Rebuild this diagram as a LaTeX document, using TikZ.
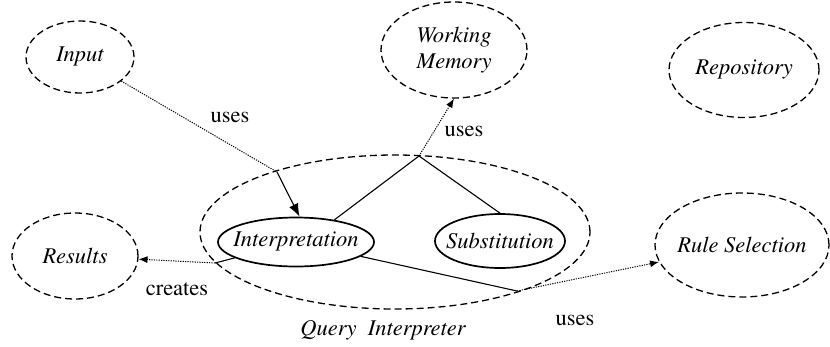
\documentclass[tikz,border=0pt]{standalone}
\usepackage[T1]{fontenc}
\renewcommand{\rmdefault}{ptm}
\usetikzlibrary{shapes.geometric,arrows.meta}
\newcommand{\lblfont}{\rmfamily\fontsize{22.5}{26}\selectfont}
% zero-width text so that the ellipse size is set by minimum width/height only
\newcommand{\zw}[1]{\makebox[0pt]{#1}}
\begin{document}
\begin{tikzpicture}[x=1pt,y=-1pt,
  every node/.style={font=\lblfont},
  dashedell/.style={ellipse,draw,line width=1.3pt,dash pattern=on 7pt off 4pt,inner sep=0pt,align=center,font=\lblfont\itshape},
  solidell/.style={ellipse,draw,line width=1.7pt,inner sep=0pt,font=\lblfont\itshape},
  dotarrow/.style={line width=1pt,dash pattern=on 1.2pt off 1.2pt,-{Latex[length=9pt,width=7pt]}},
  dotline/.style={line width=1pt,dash pattern=on 1.2pt off 1.2pt},
  plainline/.style={line width=1.1pt},
  lbl/.style={font=\lblfont}]
\useasboundingbox (0,0) rectangle (830,346);

% outer component
\node[dashedell,minimum width=390pt,minimum height=154pt] (qi) at (395,232) {};
\node[font=\lblfont\itshape] (qilbl) at (383,330) {Query\ \ Interpreter};

% external elements
\node[dashedell,minimum width=108pt,minimum height=72pt] (inp) at (80,57) {\zw{Input}};
\node[dashedell,minimum width=146pt,minimum height=96pt] (wm) at (454,50) {\zw{Working}\\\zw{Memory}};
\node[dashedell,minimum width=150pt,minimum height=95pt] (rep) at (744,70) {\zw{Repository}};
\node[dashedell,minimum width=126pt,minimum height=86pt] (res) at (75,256) {\zw{Results}};
\node[dashedell,minimum width=174pt,minimum height=104pt] (rule) at (742,245) {\zw{Rule Selection}};

% inner elements
\node[solidell,minimum width=156pt,minimum height=49pt] (interp) at (296,242) {\zw{Interpretation}};
\node[solidell,minimum width=130pt,minimum height=54pt] (subst) at (500,241) {\zw{Substitution}};

% points where connectors cross the outer boundary
\coordinate (qa) at (277,172);
\coordinate (qj) at (419,156);
\coordinate (qb) at (215,263);
\coordinate (qc) at (517,291);

% Input -> Interpretation
\draw[dotline] (inp) -- (qa);
\draw[plainline,-{Latex[length=13pt,width=10pt]}] (qa) -- (interp.82);
\node[lbl] (u1) at (230,117) {uses};

% Interpretation / Substitution -> Working Memory
\draw[plainline] (interp.30) -- (qj) -- (subst.north);
\draw[dotarrow] (qj) -- (wm.south);
\node[lbl] (u2) at (464,131) {uses};

% Interpretation -> Results
\draw[plainline] (interp) -- (qb);
\draw[dotarrow] (qb) -- (res);
\node[lbl] (cr) at (177,289) {creates};

% Interpretation -> Rule Selection
\draw[plainline] (interp) -- (qc);
\draw[dotarrow] (qc) -- (rule);
\node[lbl] (u3) at (575,320) {uses};
\end{tikzpicture}
\end{document}
